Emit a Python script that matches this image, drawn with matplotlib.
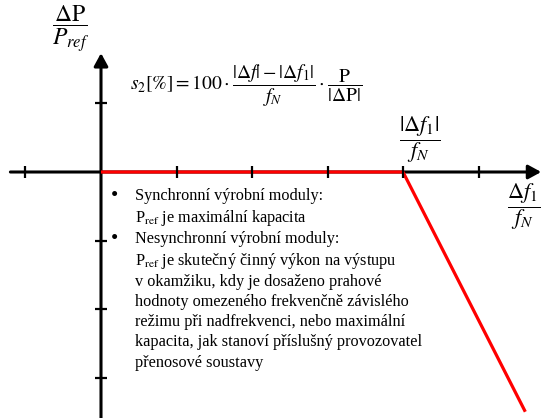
import matplotlib
matplotlib.use("Agg")
import matplotlib.pyplot as plt

plt.rcParams['font.family'] = ['Liberation Serif', 'DejaVu Serif']
plt.rcParams['mathtext.fontset'] = 'stix'

# data (in units of the drawn tick grid)
x_ticks = [-1, 1, 2, 3, 4, 5]
y_ticks = [1, -1, -2, -3]
char_f = [0, 4, 5.62]      # df/fN
char_p = [0, 0, -3.49]     # dP/Pref

bullets = [
    ("Synchronní výrobní moduly:",
     ["P$_{\\mathrm{ref}}$ je maximální kapacita"]),
    ("Nesynchronní výrobní moduly:",
     ["P$_{\\mathrm{ref}}$ je skutečný činný výkon na výstupu",
      "v okamžiku, kdy je dosaženo prahové",
      "hodnoty omezeného frekvenčně závislého",
      "režimu při nadfrekvenci, nebo maximální",
      "kapacita, jak stanoví příslušný provozovatel",
      "přenosové soustavy"]),
]

W, H = 541, 418
fig = plt.figure(figsize=(W / 100, H / 100), dpi=100)
ax = fig.add_axes([0, 0, 1, 1])
ax.set_xlim(-101 / 75.5, (W - 101) / 75.5)
ax.set_ylim(-(H - 172) / 68.7, 172 / 68.7)
ax.axis('off')


def px(x, y):
    # pixel position -> figure fraction
    return x / W, 1 - y / H


arrow = dict(arrowstyle='-|>,head_length=0.55,head_width=0.3', lw=2.2,
             color='black', mutation_scale=14, shrinkA=0, shrinkB=0)
ax.annotate('', xy=(5.83, 0), xytext=(-1.2, 0), arrowprops=arrow, zorder=1)
ax.annotate('', xy=(0, 1.73), xytext=(0, -3.7), arrowprops=arrow, zorder=1)

ax.plot(char_f, char_p, color='#ff0000', lw=2.3, zorder=2,
        solid_capstyle='butt')

ax.plot(x_ticks, [0] * len(x_ticks), ls='none', marker='|', ms=8.5,
        mew=1.6, color='black', zorder=3)
ax.plot([0] * len(y_ticks), y_ticks, ls='none', marker='_', ms=8.5,
        mew=1.6, color='black', zorder=3)

# labels
fig.text(*px(71, 29), r'$\dfrac{\Delta \mathrm{P}}{P_{ref}}$', fontsize=17,
         ha='center', va='center')
fig.text(*px(420, 140), r'$\dfrac{|\Delta f_1|}{f_N}$', fontsize=16,
         ha='center', va='center')
fig.text(*px(524, 207), r'$\dfrac{\Delta f_1}{f_N}$', fontsize=16,
         ha='center', va='center')
fig.text(*px(130, 86),
         r'$s_2[\%] = 100\cdot\dfrac{|\Delta f| - |\Delta f_1|}{f_N}'
         r'\cdot\dfrac{\mathrm{P}}{|\Delta\mathrm{P}|}$',
         fontsize=14, ha='left', va='center')

# bullet text
y = 196
for head, lines in bullets:
    fig.text(*px(114, y), '•', fontsize=15, ha='center', va='center')
    fig.text(*px(135, y), head, fontsize=11.7, ha='left', va='center')
    y += 22
    for ln in lines:
        fig.text(*px(135, y), ln, fontsize=11.7, ha='left', va='center')
        y += 20.3
    y += 1

fig.savefig('out.png', dpi=100)
